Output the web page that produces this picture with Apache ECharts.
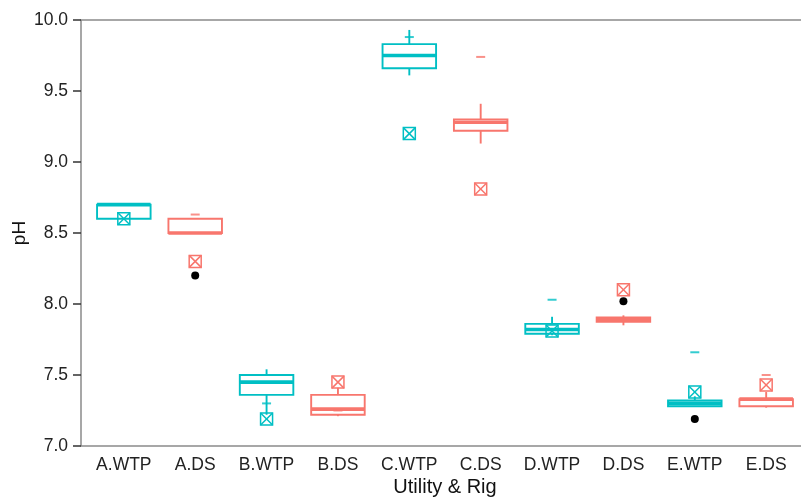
<!DOCTYPE html>
<html>
<head>
<meta charset="utf-8">
<title>pH by Utility & Rig</title>
<script src="https://cdn.jsdelivr.net/npm/echarts@6/dist/echarts.min.js"></script>
<style>
  html, body { margin: 0; padding: 0; background: #fff; }
  #chart { width: 801px; height: 498px; }
</style>
</head>
<body>
<div id="chart"></div>
<script>
// Sites sampled at the water treatment plant (WTP) and in distribution (DS)
const categories = ['A.WTP', 'A.DS', 'B.WTP', 'B.DS', 'C.WTP', 'C.DS', 'D.WTP', 'D.DS', 'E.WTP', 'E.DS'];

// Box statistics: lower whisker, Q1, median, Q3, upper whisker
const boxLow    = [8.60, 8.50, 7.22, 7.21, 9.61, 9.13, 7.78, 7.85, 7.28, 7.27];
const boxQ1     = [8.60, 8.50, 7.36, 7.22, 9.66, 9.22, 7.79, 7.875, 7.28, 7.28];
const boxMedian = [8.70, 8.50, 7.45, 7.26, 9.75, 9.28, 7.82, 7.89, 7.30, 7.33];
const boxQ3     = [8.70, 8.60, 7.50, 7.36, 9.83, 9.30, 7.86, 7.905, 7.32, 7.33];
const boxHigh   = [8.70, 8.60, 7.54, 7.41, 9.93, 9.41, 7.91, 7.92, 7.35, 7.38];

// Individual readings drawn as short dashes
const dashValues   = [null, 8.63, 7.30, 7.25, 9.88, 9.74, 8.03, null, 7.66, 7.50];
// Readings drawn as crossed squares
const squareValues = [8.60, 8.30, 7.19, 7.45, 9.20, 8.81, 7.81, 8.10, 7.38, 7.43];
// Readings drawn as black dots
const dotValues    = [null, 8.20, null, null, null, null, null, 8.02, 7.19, null];

const yTicks = [7.0, 7.5, 8.0, 8.5, 9.0, 9.5, 10.0];

const COLOR_WTP = '#00BFC4';
const COLOR_DS = '#F8766D';
const colorOf = i => categories[i].endsWith('WTP') ? COLOR_WTP : COLOR_DS;
const FONT = '"Liberation Sans", Arial, Helvetica, sans-serif';
const HALF_BOX = 0.375;

const boxData = categories.map((c, i) => [i, boxLow[i], boxQ1[i], boxMedian[i], boxQ3[i], boxHigh[i]]);
const pairs = vals => vals.map((v, i) => v == null ? null : [i, v]).filter(Boolean);

function renderBox(params, api) {
  const i = api.value(0);
  const low = api.value(1), q1 = api.value(2), med = api.value(3), q3 = api.value(4), high = api.value(5);
  const color = colorOf(i);
  const top = api.coord([i - HALF_BOX, q3]);
  const bottom = api.coord([i + HALF_BOX, q1]);
  const cx = api.coord([i, med])[0];
  const yMed = api.coord([i, med])[1];
  const yLow = api.coord([i, low])[1];
  const yHigh = api.coord([i, high])[1];
  const stroke = { stroke: color, lineWidth: 1.9, fill: null };
  return {
    type: 'group',
    children: [
      { type: 'line', shape: { x1: cx, y1: top[1], x2: cx, y2: yHigh }, style: stroke },
      { type: 'line', shape: { x1: cx, y1: bottom[1], x2: cx, y2: yLow }, style: stroke },
      { type: 'rect', shape: { x: top[0], y: top[1], width: bottom[0] - top[0], height: bottom[1] - top[1] }, style: stroke },
      { type: 'line', shape: { x1: top[0], y1: yMed, x2: bottom[0], y2: yMed }, style: { stroke: color, lineWidth: 3.6 } }
    ]
  };
}

function renderSquare(params, api) {
  const i = api.value(0);
  const p = api.coord([i, api.value(1)]);
  const h = 6;
  const style = { stroke: colorOf(i), lineWidth: 1.5, fill: null };
  return {
    type: 'group',
    children: [
      { type: 'rect', shape: { x: p[0] - h, y: p[1] - h, width: 2 * h, height: 2 * h }, style: style },
      { type: 'line', shape: { x1: p[0] - h, y1: p[1] - h, x2: p[0] + h, y2: p[1] + h }, style: style },
      { type: 'line', shape: { x1: p[0] + h, y1: p[1] - h, x2: p[0] - h, y2: p[1] + h }, style: style }
    ]
  };
}

const chart = echarts.init(document.getElementById('chart'), null, { renderer: 'canvas' });
chart.setOption({
  animation: false,
  backgroundColor: '#ffffff',
  grid: {
    left: 81, right: -8, top: 20, bottom: 52,
    containLabel: false,
    outerBoundsMode: 'none',
    show: true, borderColor: '#8a8a8a', borderWidth: 1.5, backgroundColor: 'transparent'
  },
  xAxis: {
    type: 'value',
    min: -0.6, max: 9.6,
    name: 'Utility & Rig',
    nameLocation: 'middle',
    nameGap: 31,
    nameMoveOverlap: false,
    nameTextStyle: { fontFamily: FONT, fontSize: 20, color: '#111' },
    axisLine: { show: false, onZero: false },
    axisTick: { show: false },
    splitLine: { show: false },
    axisLabel: {
      customValues: categories.map((c, i) => i),
      formatter: v => categories[Math.round(v)],
      fontFamily: FONT, fontSize: 17.5, color: '#222', margin: 10
    }
  },
  yAxis: {
    type: 'value',
    min: 7, max: 10, interval: 0.5,
    name: 'pH',
    nameLocation: 'middle',
    nameGap: 52,
    nameMoveOverlap: false,
    nameTextStyle: { fontFamily: FONT, fontSize: 19, color: '#111' },
    axisLine: { show: false, onZero: false },
    axisTick: { show: true, length: 8, lineStyle: { color: '#333', width: 1.5 } },
    splitLine: { show: false },
    axisLabel: {
      customValues: yTicks,
      formatter: v => Number(v).toFixed(1),
      fontFamily: FONT, fontSize: 17.5, color: '#222', margin: 13
    }
  },
  series: [
    {
      type: 'custom',
      name: 'box',
      renderItem: renderBox,
      encode: { x: 0, y: [1, 2, 3, 4, 5] },
      data: boxData,
      z: 2
    },
    {
      type: 'scatter',
      name: 'dash',
      symbol: 'rect',
      symbolSize: [9, 2],
      data: pairs(dashValues),
      itemStyle: { color: p => colorOf(p.data[0]) },
      z: 3
    },
    {
      type: 'custom',
      name: 'square',
      renderItem: renderSquare,
      encode: { x: 0, y: 1 },
      data: pairs(squareValues),
      z: 4
    },
    {
      type: 'scatter',
      name: 'dot',
      symbol: 'circle',
      symbolSize: 8,
      data: pairs(dotValues),
      itemStyle: { color: '#000', opacity: 1 },
      z: 5
    }
  ]
});
</script>
</body>
</html>
